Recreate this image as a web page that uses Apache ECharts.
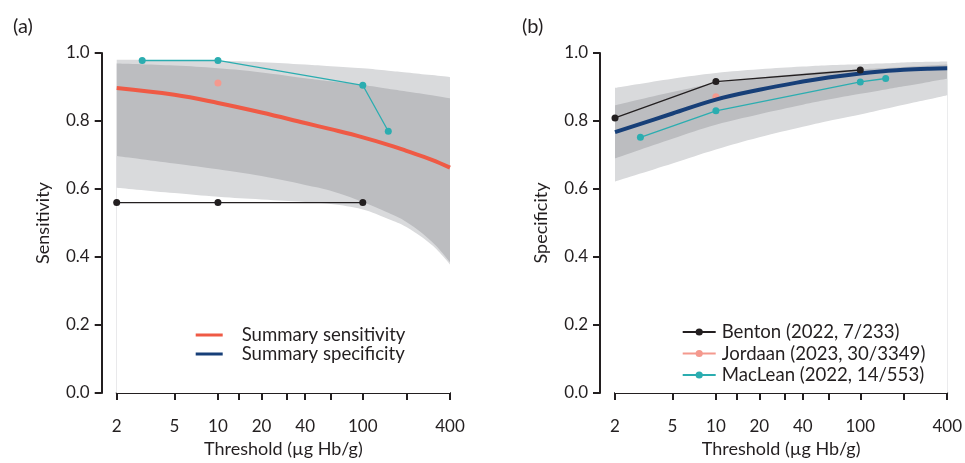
<!DOCTYPE html>
<html>
<head>
<meta charset="utf-8">
<script src="https://cdn.jsdelivr.net/npm/echarts@6/dist/echarts.min.js"></script>
<style>
html,body{margin:0;padding:0;background:#fff;}
#chart{width:965px;height:463px;}
</style>
</head>
<body>
<div id="chart"></div>
<script>
// ---- data ----
const bandThresholds = [2, 5, 10, 20, 40, 60, 100, 150, 200, 300, 400];

const sensSummary    = [0.897, 0.877, 0.853, 0.825, 0.794, 0.776, 0.752, 0.730, 0.712, 0.686, 0.663];
const sensOuterLower = [0.604, 0.588, 0.577, 0.569, 0.562, 0.556, 0.540, 0.512, 0.488, 0.435, 0.378];
const sensOuterUpper = [0.980, 0.979, 0.977, 0.973, 0.966, 0.961, 0.955, 0.948, 0.943, 0.935, 0.929];
const sensInnerLower = [0.697, 0.675, 0.658, 0.638, 0.612, 0.595, 0.562, 0.530, 0.503, 0.445, 0.385];
const sensInnerUpper = [0.969, 0.963, 0.955, 0.943, 0.926, 0.917, 0.906, 0.895, 0.887, 0.876, 0.867];

const specSummary    = [0.767, 0.822, 0.863, 0.892, 0.916, 0.928, 0.940, 0.947, 0.951, 0.954, 0.955];
const specOuterLower = [0.622, 0.675, 0.716, 0.752, 0.783, 0.800, 0.819, 0.836, 0.848, 0.864, 0.876];
const specOuterUpper = [0.897, 0.924, 0.941, 0.952, 0.960, 0.964, 0.967, 0.9695, 0.972, 0.974, 0.975];
const specInnerLower = [0.690, 0.748, 0.789, 0.820, 0.848, 0.863, 0.880, 0.893, 0.902, 0.915, 0.924];
const specInnerUpper = [0.846, 0.885, 0.911, 0.928, 0.940, 0.946, 0.952, 0.956, 0.959, 0.963, 0.966];

const bentonThresholds  = [2, 10, 100];
const bentonSens        = [0.560, 0.560, 0.560];
const bentonSpec        = [0.809, 0.916, 0.950];
const jordaanThresholds = [10];
const jordaanSens       = [0.912];
const jordaanSpec       = [0.871];
const macleanThresholds = [3, 10, 100, 150];
const macleanSens       = [0.978, 0.978, 0.905, 0.770];
const macleanSpec       = [0.752, 0.830, 0.915, 0.925];

const xTickValues  = [2, 5, 10, 14, 20, 30, 40, 60, 100, 200, 400];
const xLabelValues = [2, 5, 10, 20, 40, 100, 400];
const yTickLabels  = ['0.0', '0.2', '0.4', '0.6', '0.8', '1.0'];

const nameBenton  = 'Benton (2022, 7/233)';
const nameJordaan = 'Jordaan (2023, 30/3349)';
const nameMaclean = 'MacLean (2022, 14/553)';
const nameSens = 'Summary sensitivity';
const nameSpec = 'Summary specificity';

// ---- styles ----
const INK = '#231f20';
const FONT = 'Lato';
const C_LIGHT = '#d9dadc';
const C_DARK = '#bcbdc0';
const C_RED = '#ef5a45';
const C_NAVY = '#173f78';
const C_BLACK = '#231f20';
const C_PINK = '#f4998e';
const C_TEAL = '#2badb0';

function zip(xs, ys) { return xs.map((x, i) => [x, ys[i]]); }

// filled area from the axis floor up to a boundary curve; layered so the bands appear
function fillTo(g, ys, color) {
  return { type: 'line', xAxisIndex: g, yAxisIndex: g, data: zip(bandThresholds, ys),
    symbol: 'none', smooth: 0.4, lineStyle: { opacity: 0, width: 0 },
    areaStyle: { color: color, opacity: 1, origin: 'start' },
    silent: true, z: 1, legendHoverLink: false, tooltip: { show: false } };
}

function bands(g, oL, oU, iL, iU) {
  return [fillTo(g, oU, C_LIGHT), fillTo(g, iU, C_DARK), fillTo(g, iL, C_LIGHT), fillTo(g, oL, '#ffffff')];
}

function study(g, name, xs, ys, color) {
  return { type: 'line', name: name, xAxisIndex: g, yAxisIndex: g, data: zip(xs, ys),
    symbol: 'circle', symbolSize: 7, showSymbol: true,
    lineStyle: { color: color, width: 1.3 }, itemStyle: { color: color }, z: 4 };
}

function summary(g, name, ys, color) {
  return { type: 'line', name: name, xAxisIndex: g, yAxisIndex: g, data: zip(bandThresholds, ys),
    symbol: 'none', smooth: 0.4, lineStyle: { color: color, width: 4 }, itemStyle: { color: color }, z: 3 };
}

function xAxis(g) {
  return {
    type: 'log', logBase: 10, gridIndex: g, min: 2, max: 400, offset: 15,
    name: 'Threshold (µg Hb/g)', nameLocation: 'middle', nameGap: 32,
    nameTextStyle: { fontFamily: FONT, fontSize: 18, color: INK },
    axisLine: { show: true, lineStyle: { color: INK, width: 2 } },
    axisTick: { show: true, length: 7, lineStyle: { color: INK, width: 2 }, customValues: xTickValues },
    axisLabel: { show: true, customValues: xLabelValues, fontFamily: FONT, fontSize: 17, color: INK, margin: 10 },
    minorTick: { show: false }, splitLine: { show: false }, minorSplitLine: { show: false }
  };
}

function yAxis(g, name) {
  return {
    type: 'value', gridIndex: g, min: 0, max: 1, interval: 0.2, offset: 15,
    name: name, nameLocation: 'middle', nameGap: 50,
    nameTextStyle: { fontFamily: FONT, fontSize: 18, color: INK },
    axisLine: { show: true, lineStyle: { color: INK, width: 2 } },
    axisTick: { show: true, length: 7, lineStyle: { color: INK, width: 2 } },
    axisLabel: { fontFamily: FONT, fontSize: 17, color: INK, margin: 12,
      formatter: v => yTickLabels[Math.round(v / 0.2)] },
    splitLine: { show: false }
  };
}

const series = [].concat(
  bands(0, sensOuterLower, sensOuterUpper, sensInnerLower, sensInnerUpper),
  [summary(0, nameSens, sensSummary, C_RED),
   study(0, nameBenton, bentonThresholds, bentonSens, C_BLACK),
   study(0, nameJordaan, jordaanThresholds, jordaanSens, C_PINK),
   study(0, nameMaclean, macleanThresholds, macleanSens, C_TEAL)],
  bands(1, specOuterLower, specOuterUpper, specInnerLower, specInnerUpper),
  [Object.assign(study(1, nameJordaan, jordaanThresholds, jordaanSpec, C_PINK), { z: 2 }),
   summary(1, nameSpec, specSummary, C_NAVY),
   study(1, nameBenton, bentonThresholds, bentonSpec, C_BLACK),
   study(1, nameMaclean, macleanThresholds, macleanSpec, C_TEAL)]
);

const option = {
  animation: false,
  backgroundColor: '#fff',
  textStyle: { fontFamily: FONT },
  title: [
    { text: '(a)', left: 8, top: 12, textStyle: { fontFamily: FONT, fontSize: 20, fontWeight: 'normal', color: INK } },
    { text: '(b)', left: 517, top: 12, textStyle: { fontFamily: FONT, fontSize: 20, fontWeight: 'normal', color: INK } }
  ],
  grid: [
    { left: 116.7, top: 53, width: 333.3, height: 342 },
    { left: 615, top: 53, width: 333.3, height: 342 }
  ],
  xAxis: [xAxis(0), xAxis(1)],
  yAxis: [yAxis(0, 'Sensitivity'), yAxis(1, 'Specificity')],
  legend: [
    { orient: 'vertical', left: 190.7, top: 320.5, itemWidth: 27, itemHeight: 3, itemGap: 0,
      selectedMode: false,
      data: [{ name: nameSens, icon: 'rect' }, { name: nameSpec, icon: 'rect' }],
      textStyle: { fontFamily: FONT, fontSize: 18.6, color: INK, padding: [0, 0, 0, 14] } },
    { orient: 'vertical', left: 676.7, top: 317.5, itemWidth: 33, itemHeight: 9, itemGap: 2.5,
      selectedMode: false,
      data: [nameBenton, nameJordaan, nameMaclean],
      lineStyle: { width: 2 },
      textStyle: { fontFamily: FONT, fontSize: 18.6, color: INK, padding: [0, 0, 0, 1] } }
  ],
  series: series
};

const chart = echarts.init(document.getElementById('chart'), null, { renderer: 'canvas' });
chart.setOption(option);
</script>
</body>
</html>
